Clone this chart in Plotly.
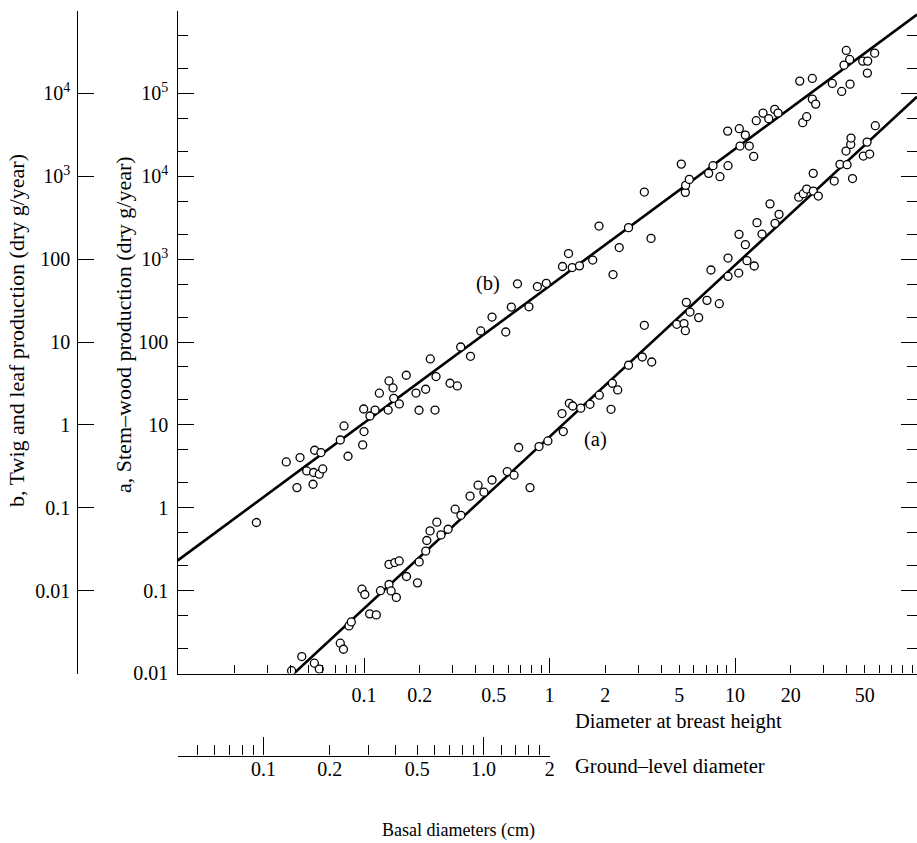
import numpy as np
import plotly.graph_objects as go

FONT = "Liberation Serif"

# ---------------- data ----------------
# (a) stem-wood production (dry g/year) vs diameter at breast height (cm)
dbh_a = [0.0407, 0.0462, 0.054, 0.0574, 0.0745, 0.0775, 0.083, 0.0854, 0.1073, 0.1165,
         0.0975, 0.101, 0.1227, 0.1364, 0.1466, 0.1548, 0.1364, 0.14, 0.1494, 0.1695,
         0.1942, 0.1984, 0.2152, 0.218, 0.227,
         0.247, 0.26, 0.284, 0.31, 0.333, 0.373, 0.412, 0.443,
         0.49, 0.592, 0.644, 0.785, 0.682, 0.878, 0.98, 1.168, 1.187, 1.279,
         1.334, 1.473, 1.653, 1.856, 2.146, 2.181, 2.332, 2.667, 3.164, 3.556,
         3.245, 4.851, 5.31, 5.4, 5.465, 5.72, 6.37, 7.06, 8.23, 7.42,
         9.17, 9.17, 10.47, 11.6, 12.7, 10.51, 11.37, 13.14, 13.98, 15.44,
         16.43, 17.27, 22.05, 23.35, 24.35, 26.43, 28.12, 26.4, 34.27, 36.8,
         40.2, 43.0, 39.65, 42.05, 42.2, 49.2, 53.2, 51.5, 57.06]
stem_a = [0.0108, 0.016, 0.0133, 0.0113, 0.0232, 0.0196, 0.0375, 0.0419, 0.0524, 0.0509,
          0.104, 0.0897, 0.0997, 0.207, 0.218, 0.228, 0.1185, 0.099, 0.0828, 0.148,
          0.124, 0.222, 0.3, 0.402, 0.525,
          0.67, 0.47, 0.55, 0.96, 0.81, 1.38, 1.87, 1.54,
          2.16, 2.73, 2.47, 1.75, 5.33, 5.47, 6.4, 13.7, 8.3, 18.2,
          16.9, 15.9, 17.7, 22.8, 15.4, 31.8, 26.4, 52.4, 65.9, 57.4,
          159, 163.5, 166.7, 137, 301, 230, 197, 318, 290, 739,
          1031, 620, 679, 959, 826, 1991, 1496, 2756, 2009, 4645,
          2704, 3470, 5597, 6167, 7008, 6630, 5770, 10840, 8750, 13920,
          13800, 9380, 20140, 24260, 28900, 17530, 18530, 25850, 40760]

# (b) twig and leaf production (dry g/year) vs diameter at breast height (cm)
dbh_b = [0.0263, 0.0381, 0.0435, 0.0452, 0.0491, 0.0531, 0.0535, 0.0542, 0.0574, 0.0586,
         0.0599, 0.0745, 0.078, 0.082, 0.0984, 0.1, 0.0996, 0.1077, 0.1147, 0.121,
         0.135, 0.1364, 0.1433, 0.1446, 0.155, 0.169, 0.1906, 0.198, 0.215, 0.2277,
         0.2445, 0.291, 0.3185, 0.2414, 0.332, 0.375, 0.4257, 0.49, 0.581, 0.6224,
         0.672, 0.775, 0.86, 0.961, 1.175, 1.266, 1.326, 1.451, 1.71, 1.849,
         2.2, 2.376, 2.667, 3.245, 3.526, 5.134, 5.4, 5.42, 5.67, 7.21,
         7.61, 8.3, 9.13, 9.17, 10.55, 11.37, 10.64, 11.94, 12.61, 13.02,
         14.16, 15.2, 16.37, 17.06, 22.33, 26.11, 23.17, 24.35, 26.11, 27.23,
         33.46, 37.6, 41.7, 38.7, 39.8, 41.5, 48.8, 51.9, 56.6, 51.7]
twig_b = [0.0663, 0.357, 0.175, 0.403, 0.278, 0.192, 0.266, 0.494, 0.254, 0.463,
          0.294, 0.657, 0.97, 0.418, 0.573, 0.83, 1.555, 1.28, 1.51, 2.41,
          1.51, 3.39, 2.79, 2.09, 1.79, 3.97, 2.42, 1.5, 2.69, 6.24,
          3.83, 3.18, 2.95, 1.51, 8.7, 6.72, 13.6, 20.0, 13.2, 26.4,
          50.4, 26.6, 46.7, 51.1, 81.5, 116.8, 79.2, 83, 97.5, 250.7,
          65.2, 138, 239.9, 645, 178, 1403, 640, 777, 917, 1084,
          1342, 989, 3510, 1342, 3752, 3141, 2314, 2314, 1738, 4688,
          5785, 4953, 6412, 5785, 14070, 15170, 4433, 5236, 8535, 7430,
          13200, 10570, 12940, 21940, 33000, 25700, 24530, 24530, 30630, 17580]

# fitted power laws  y = c * D**k
fit_a_c, fit_a_k = 7.16, 2.072
fit_b_c, fit_b_k = 47.5, 1.653

# tick labels
dbh_labels = {0.1: "0.1", 0.2: "0.2", 0.5: "0.5", 1: "1", 2: "2", 5: "5", 10: "10", 20: "20", 50: "50"}
gl_labels = {0.1: "0.1", 0.2: "0.2", 0.5: "0.5", 1.0: "1.0", 2.0: "2"}
a_labels = {0.01: "0.01", 0.1: "0.1", 1: "1", 10: "10", 100: "100",
            1e3: "10<sup>3</sup>", 1e4: "10<sup>4</sup>", 1e5: "10<sup>5</sup>", 1e6: " "}
b_labels = {1e-3: " ", 0.01: "0.01", 0.1: "0.1", 1: "1", 10: "10", 100: "100",
            1e3: "10<sup>3</sup>", 1e4: "10<sup>4</sup>", 1e5: " "}
gl_minor = [0.05, 0.06, 0.07, 0.08, 0.09, 0.3, 0.4, 0.6, 0.7, 0.8, 0.9, 1.2, 1.4, 1.6, 1.8]

# ---------------- layout geometry ----------------
W, H = 917, 843
X_LEFT, X_RIGHT = 177.5, 917.0
Y_TOP, Y_BOT = 10.5, 673.5
GL_RIGHT = 550.0
GL_Y = 755.5
B_AXIS_X = 76.5
EPS = 0.0006  # tiny pad so that ticks sitting exactly on the range ends are kept

x_range = [-2.0054, 1.9811]
y_range = [-2 - EPS, 6 + EPS]
yb_range = [-3 - EPS, 5 + EPS]
gl_range = [-1.39, np.log10(2.0) + EPS]
GL_MIN = 10 ** (gl_range[0] + EPS)

def px(v):
    return v / W

def py(v):
    return (H - v) / H

# tick sets
x_major = []
for dec in [0.01, 0.1, 1, 10]:
    for m in range(1, 10):
        v = round(dec * m, 6)
        if np.log10(v) <= x_range[1] and v > 0.01:
            x_major.append(v)
x_text = [dbh_labels.get(v, " ") for v in x_major]

y_major = list(a_labels.keys())
y_text = list(a_labels.values())
y_minor = [round(d * m, 8) for d in [0.01, 0.1, 1, 10, 100, 1e3, 1e4, 1e5] for m in (2, 5)]
b_major = list(b_labels.keys())
b_text = list(b_labels.values())

gl_major = sorted(list(gl_labels.keys()) + gl_minor)
gl_text = [gl_labels.get(v, " ") for v in gl_major]

tickfont = dict(family=FONT, size=20, color="black")

fig = go.Figure()

# fitted lines
xa0 = (0.01 / fit_a_c) ** (1 / fit_a_k)
xa = np.logspace(np.log10(xa0), x_range[1], 50)
fig.add_trace(go.Scatter(x=xa, y=fit_a_c * xa ** fit_a_k, mode="lines",
                         line=dict(color="black", width=2.6), hoverinfo="skip", showlegend=False))
xb = np.logspace(x_range[0], x_range[1], 50)
fig.add_trace(go.Scatter(x=xb, y=fit_b_c * xb ** fit_b_k, mode="lines", yaxis="y2",
                         line=dict(color="black", width=2.6), hoverinfo="skip", showlegend=False))

marker = dict(symbol="circle", size=8, color="white", line=dict(color="black", width=1.3))
fig.add_trace(go.Scatter(x=dbh_a, y=stem_a, mode="markers", marker=marker,
                         name="(a) stem-wood", showlegend=False))
fig.add_trace(go.Scatter(x=dbh_b, y=twig_b, mode="markers", marker=marker, yaxis="y2",
                         name="(b) twig and leaf", showlegend=False))

# helper trace to instantiate the ground-level diameter axis
fig.add_trace(go.Scatter(x=[0.1], y=[1], xaxis="x2", yaxis="y", mode="markers",
                         marker=dict(opacity=0), hoverinfo="skip", showlegend=False))

common = dict(showgrid=False, zeroline=False, linecolor="black", linewidth=1.4,
              tickcolor="black", tickwidth=1.3, tickfont=tickfont, type="log",
              automargin=False, tickangle=0)

fig.update_layout(
    template="none",
    width=W, height=H,
    margin=dict(l=0, r=0, t=0, b=0, pad=0, autoexpand=False),
    paper_bgcolor="white", plot_bgcolor="rgba(0,0,0,0)",
    showlegend=False,
    xaxis=dict(common, domain=[px(X_LEFT), px(X_RIGHT)], range=x_range, anchor="y",
               showline=True, ticks="inside", ticklen=8,
               tickmode="array", tickvals=x_major, ticktext=x_text, ticklabelstandoff=3,
               minor=dict(tickmode="array", tickvals=[0.1, 1, 10], ticks="inside",
                          ticklen=15, tickcolor="black", tickwidth=1.3, showgrid=False)),
    xaxis2=dict(common, domain=[px(X_LEFT), px(GL_RIGHT)], range=gl_range, anchor="free",
                position=py(GL_Y), showline=True, ticks="inside", ticklen=10,
                tickmode="array", tickvals=gl_major, ticktext=gl_text, ticklabelstandoff=-5,
                minor=dict(tickmode="array", tickvals=[GL_MIN, 0.1, 1.0, 2.0], ticks="inside",
                           ticklen=18, tickcolor="black", tickwidth=1.3, showgrid=False)),
    yaxis=dict(common, domain=[py(Y_BOT), py(Y_TOP)], range=y_range, anchor="x",
               showline=True, mirror="ticks", ticks="inside", ticklen=16,
               tickmode="array", tickvals=y_major, ticktext=y_text, ticklabelstandoff=4,
               minor=dict(tickmode="array", tickvals=y_minor, ticks="inside",
                          ticklen=10, tickcolor="black", tickwidth=1.3, showgrid=False)),
    yaxis2=dict(common, range=yb_range, overlaying="y", anchor="free", side="left",
                position=px(B_AXIS_X), showline=True, ticks="inside", ticklen=16,
                tickmode="array", tickvals=b_major, ticktext=b_text, ticklabelstandoff=2),
)

ann_font = dict(family=FONT, size=20.5, color="black")
basal_font = dict(family=FONT, size=18, color="black")
title_font = dict(family=FONT, size=22, color="black")
annotations = [
    dict(text="b, Twig and leaf production (dry g/year)", xref="paper", yref="paper",
         x=px(17), y=py(331), textangle=-90, showarrow=False, font=title_font,
         xanchor="center", yanchor="middle"),
    dict(text="a, Stem\u2013wood production (dry g/year)", xref="paper", yref="paper",
         x=px(123), y=py(325), textangle=-90, showarrow=False, font=title_font,
         xanchor="center", yanchor="middle"),
    dict(text="Diameter at breast height", xref="paper", yref="paper",
         x=px(573), y=py(721), showarrow=False, font=ann_font, xanchor="left", yanchor="middle"),
    dict(text="Ground\u2013level diameter", xref="paper", yref="paper",
         x=px(573), y=py(766), showarrow=False, font=ann_font, xanchor="left", yanchor="middle"),
    dict(text="Basal diameters (cm)", xref="paper", yref="paper",
         x=px(458), y=py(830), showarrow=False, font=basal_font, xanchor="center", yanchor="middle"),
    dict(text="(b)", xref="x", yref="y", x=np.log10(0.466), y=np.log10(510),
         showarrow=False, font=ann_font, xanchor="center", yanchor="middle"),
    dict(text="(a)", xref="x", yref="y", x=np.log10(1.78), y=np.log10(6.7),
         showarrow=False, font=ann_font, xanchor="center", yanchor="middle"),
]
fig.update_layout(annotations=annotations)

fig.write_html("out.html")
